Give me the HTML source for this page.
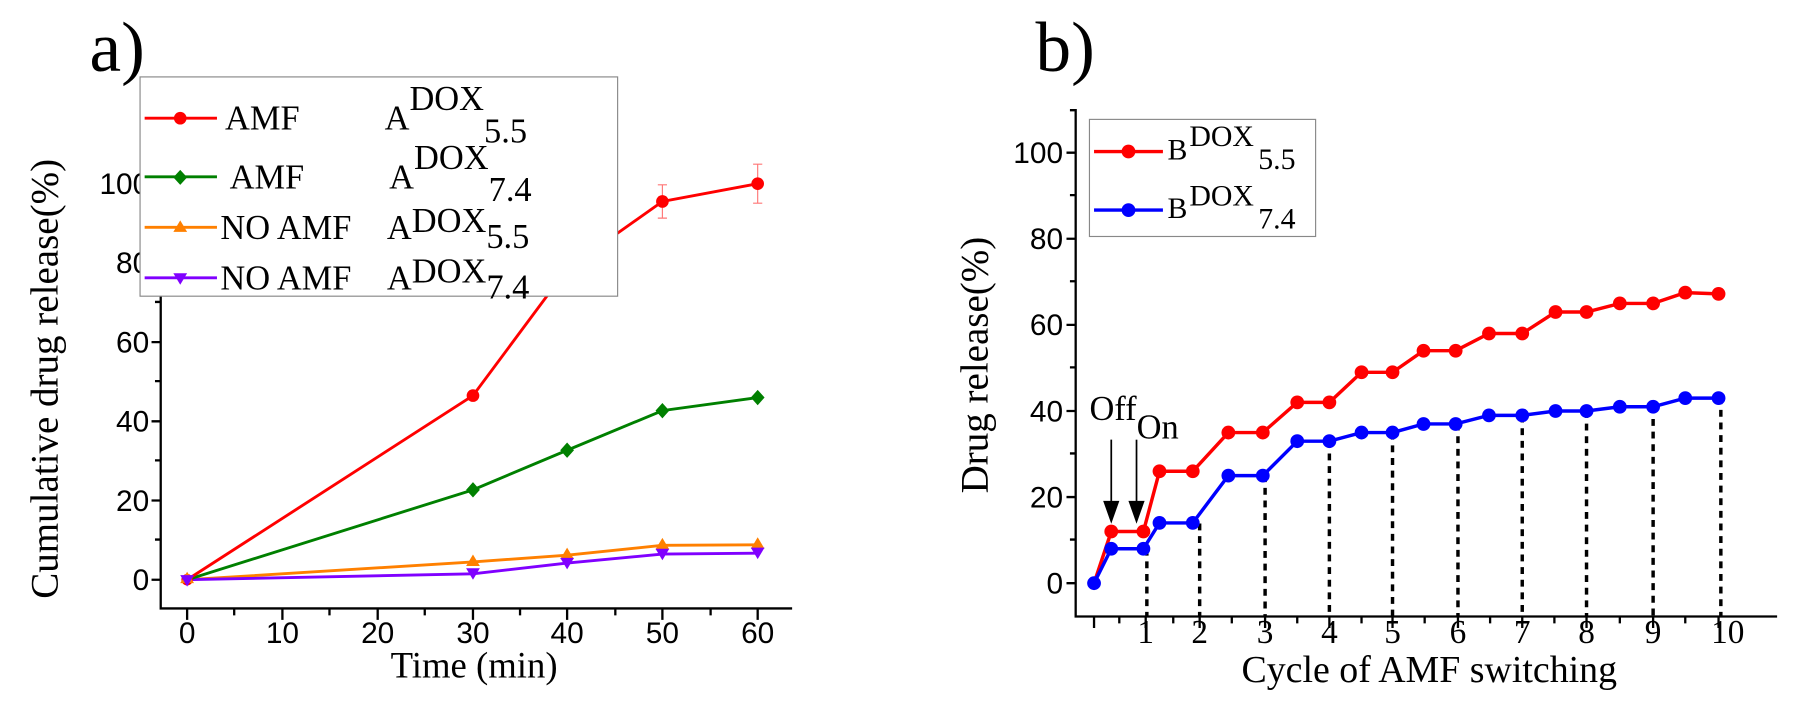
<!DOCTYPE html>
<html><head><style>body{margin:0;background:#fff}svg{display:block}</style></head><body>
<svg width="1800" height="703" xmlns="http://www.w3.org/2000/svg">
<g transform="scale(1.148)">
<g font-family="Liberation Serif, serif" font-size="62"><text x="78" y="62">a)</text><text x="902" y="62">b)</text></g>
<!-- Chart A -->
<g stroke="#000" stroke-width="2" fill="none">
<path d="M140,126 V530 H690"/>
<path d="M163,530v10M246,530v10M329,530v10M412,530v10M494,530v10M577,530v10M660,530v10"/>
<path d="M204,530v6M287,530v6M370,530v6M453,530v6M536,530v6M619,530v6"/>
<path d="M140,505h-8M140,436h-8M140,367h-8M140,298h-8M140,229h-8M140,160h-8"/>
<path d="M140,470h-5M140,401h-5M140,332h-5M140,263h-5M140,194h-5M140,126h-5"/>
</g>
<g font-family="Liberation Sans, sans-serif" font-size="26" text-anchor="end"><text x="130" y="514">0</text><text x="130" y="445">20</text><text x="130" y="376">40</text><text x="130" y="307">60</text><text x="130" y="238">80</text><text x="130" y="169">100</text></g>
<g font-family="Liberation Sans, sans-serif" font-size="26" text-anchor="middle"><text x="163" y="560">0</text><text x="246" y="560">10</text><text x="329" y="560">20</text><text x="412" y="560">30</text><text x="494" y="560">40</text><text x="577" y="560">50</text><text x="660" y="560">60</text></g>
<text x="413" y="590" font-family="Liberation Serif, serif" font-size="32" text-anchor="middle">Time (min)</text>
<text transform="translate(50,330) rotate(-90)" font-family="Liberation Serif, serif" font-size="34" text-anchor="middle">Cumulative drug release(%)</text>
<g stroke-width="2.5" fill="none">
<polyline stroke="#ff8000" points="163,505 412,489.5 494,483.6 577,475 660,474.6"/>
<polyline stroke="#8000ff" points="163,505 412,499.8 494,490.5 577,482.6 660,481.9"/>
<polyline stroke="#008000" points="163,505 412,426.7 494,392.2 577,357.7 660,346.3"/>
<polyline stroke="#ff0000" points="163,505 412,344.6 494,234.2 577,175.5 660,160"/>
</g>
<g stroke="#f77" stroke-width="1"><path d="M494,225v18M490,225h8M490,243h8M577,161v29M573,161h8M573,190h8M660,143v34M656,143h8M656,177h8"/></g>
<g fill="#ff0000"><circle cx="163" cy="505" r="5"/><circle cx="412" cy="344.6" r="5.5"/><circle cx="494" cy="234.2" r="5.5"/><circle cx="577" cy="175.5" r="5.5"/><circle cx="660" cy="160" r="5.5"/></g>
<g fill="#008000"><path d="M412,420l6,6.7-6,6.7-6-6.7zM494,385.5l6,6.7-6,6.7-6-6.7zM577,351l6,6.7-6,6.7-6-6.7zM660,339.6l6,6.7-6,6.7-6-6.7z"/></g>
<g fill="#ff8000"><path d="M412,483l6,10h-12zM494,477l6,10h-12zM577,468.5l6,10h-12zM660,468l6,10h-12zM163,498l6,10h-12z"/></g>
<g fill="#8000ff"><path d="M412,505l6,-10h-12zM494,496l6,-10h-12zM577,488l6,-10h-12zM660,487l6,-10h-12zM163,511l6,-10h-12z"/></g>
<rect x="122" y="67" width="416" height="191" fill="#fff" stroke="#888" stroke-width="1"/>
<g stroke-width="2.5"><path stroke="#ff0000" d="M126,103h63"/><path stroke="#008000" d="M126,154h63"/><path stroke="#ff8000" d="M126,198h63"/><path stroke="#8000ff" d="M126,242h63"/></g>
<circle cx="157" cy="103" r="5.5" fill="#ff0000"/><path d="M157,148l6,6.5-6,6.5-6-6.5z" fill="#008000"/><path d="M157,192l6,10h-12z" fill="#ff8000"/><path d="M157,248l6,-10h-12z" fill="#8000ff"/>
<g font-family="Liberation Serif, serif" font-size="30">
<text x="196" y="113">AMF</text><text x="335" y="113">A<tspan dy="-17">DOX</tspan><tspan dy="28">5.5</tspan></text>
<text x="200" y="164">AMF</text><text x="339" y="164">A<tspan dy="-17">DOX</tspan><tspan dy="28">7.4</tspan></text>
<text x="192" y="208">NO AMF</text><text x="337" y="208">A<tspan dy="-6">DOX</tspan><tspan dy="14">5.5</tspan></text>
<text x="192" y="252">NO AMF</text><text x="337" y="252">A<tspan dy="-6">DOX</tspan><tspan dy="14">7.4</tspan></text>
</g>
<!-- Chart B -->
<g stroke="#000" stroke-width="2" fill="none">
<path d="M937,95 V537 H1548"/>
<path d="M937,508h-8M937,433h-8M937,358h-8M937,283h-8M937,208h-8M937,133h-8"/>
<path d="M937,470h-5M937,395h-5M937,320h-5M937,245h-5M937,170h-5M937,96h-5"/>
<path d="M953,537v10M998,537v10M1045,537v10M1102,537v10M1158,537v10M1213,537v10M1270,537v10M1326,537v10M1382,537v10M1440,537v10M1497,537v10"/>
<path d="M975,537v6M1022,537v6M1073,537v6M1130,537v6M1186,537v6M1241,537v6M1298,537v6M1354,537v6M1411,537v6M1468,537v6"/>
</g>
<g font-family="Liberation Sans, sans-serif" font-size="26" text-anchor="end"><text x="926" y="517">0</text><text x="926" y="442">20</text><text x="926" y="367">40</text><text x="926" y="292">60</text><text x="926" y="217">80</text><text x="926" y="142">100</text></g>
<g font-family="Liberation Serif, serif" font-size="29" text-anchor="middle"><text x="998" y="560">1</text><text x="1045" y="560">2</text><text x="1102" y="560">3</text><text x="1158" y="560">4</text><text x="1213" y="560">5</text><text x="1270" y="560">6</text><text x="1326" y="560">7</text><text x="1382" y="560">8</text><text x="1440" y="560">9</text><text x="1505" y="560">10</text></g>
<text x="1245" y="594" font-family="Liberation Serif, serif" font-size="33" text-anchor="middle">Cycle of AMF switching</text>
<text transform="translate(860,318) rotate(-90)" font-family="Liberation Serif, serif" font-size="34" text-anchor="middle">Drug release(%)</text>
<g stroke="#000" stroke-width="3" stroke-dasharray="6,5"><path d="M999,478V537M1045,456V537M1102,414V537M1158,384V537M1213,377V537M1270,369V537M1326,362V537M1382,358V537M1440,354V537M1499,346V537"/></g>
<g stroke="#000" stroke-width="1.5" fill="#000"><path d="M968,383V447"/><path d="M962,437l6,17 6,-17z"/><path d="M990,383V447"/><path d="M984,437l6,17 6,-17z"/></g>
<text x="949" y="366" font-family="Liberation Serif, serif" font-size="30">Off<tspan dy="16">On</tspan></text>
<polyline fill="none" stroke="#ff0000" stroke-width="3" points="953,508 968,463 996,463 1010,410.5 1039,410.5 1070,376.8 1100,376.8 1130,350.5 1158,350.5 1186,324.3 1213,324.3 1240,305.5 1268,305.5 1297,290.5 1326,290.5 1355,271.8 1382,271.8 1411,264.3 1440,264.3 1468,254.9 1497,256"/>
<polyline fill="none" stroke="#0000ff" stroke-width="3" points="953,508 968,478 996,478 1010,455.5 1039,455.5 1070,414.3 1100,414.3 1130,384.3 1158,384.3 1186,376.8 1213,376.8 1240,369.3 1268,369.3 1297,361.8 1326,361.8 1355,358 1382,358 1411,354.3 1440,354.3 1468,346.8 1497,346.8"/>
<g fill="#ff0000"><circle cx="968" cy="463" r="6"/><circle cx="996" cy="463" r="6"/><circle cx="1010" cy="410.5" r="6"/><circle cx="1039" cy="410.5" r="6"/><circle cx="1070" cy="376.8" r="6"/><circle cx="1100" cy="376.8" r="6"/><circle cx="1130" cy="350.5" r="6"/><circle cx="1158" cy="350.5" r="6"/><circle cx="1186" cy="324.3" r="6"/><circle cx="1213" cy="324.3" r="6"/><circle cx="1240" cy="305.5" r="6"/><circle cx="1268" cy="305.5" r="6"/><circle cx="1297" cy="290.5" r="6"/><circle cx="1326" cy="290.5" r="6"/><circle cx="1355" cy="271.8" r="6"/><circle cx="1382" cy="271.8" r="6"/><circle cx="1411" cy="264.3" r="6"/><circle cx="1440" cy="264.3" r="6"/><circle cx="1468" cy="254.9" r="6"/><circle cx="1497" cy="256" r="6"/></g>
<g fill="#0000ff"><circle cx="953" cy="508" r="6"/><circle cx="968" cy="478" r="6"/><circle cx="996" cy="478" r="6"/><circle cx="1010" cy="455.5" r="6"/><circle cx="1039" cy="455.5" r="6"/><circle cx="1070" cy="414.3" r="6"/><circle cx="1100" cy="414.3" r="6"/><circle cx="1130" cy="384.3" r="6"/><circle cx="1158" cy="384.3" r="6"/><circle cx="1186" cy="376.8" r="6"/><circle cx="1213" cy="376.8" r="6"/><circle cx="1240" cy="369.3" r="6"/><circle cx="1268" cy="369.3" r="6"/><circle cx="1297" cy="361.8" r="6"/><circle cx="1326" cy="361.8" r="6"/><circle cx="1355" cy="358" r="6"/><circle cx="1382" cy="358" r="6"/><circle cx="1411" cy="354.3" r="6"/><circle cx="1440" cy="354.3" r="6"/><circle cx="1468" cy="346.8" r="6"/><circle cx="1497" cy="346.8" r="6"/></g>
<rect x="949" y="104" width="197" height="102" fill="#fff" stroke="#888" stroke-width="1"/>
<path d="M953,132h60" stroke="#ff0000" stroke-width="3"/><circle cx="983" cy="132" r="6" fill="#ff0000"/>
<path d="M953,183h60" stroke="#0000ff" stroke-width="3"/><circle cx="983" cy="183" r="6" fill="#0000ff"/>
<g font-family="Liberation Serif, serif" font-size="26">
<text x="1017" y="139">B</text><text x="1036" y="127">DOX</text><text x="1096" y="147">5.5</text>
<text x="1017" y="190">B</text><text x="1036" y="179">DOX</text><text x="1096" y="199">7.4</text>
</g>
</g>
</svg>
</body></html>
